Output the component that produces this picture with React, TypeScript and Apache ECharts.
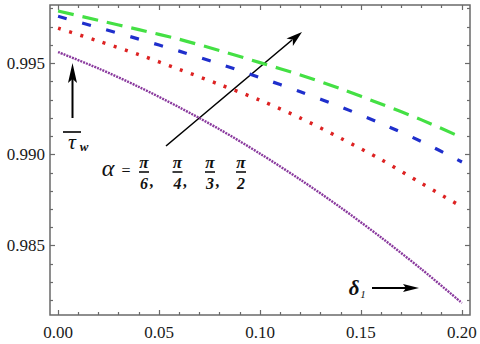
import React, { useEffect, useRef } from "react";
import * as echarts from "echarts";

const xValues = [0, 0.02, 0.04, 0.06, 0.08, 0.1, 0.12, 0.14, 0.16, 0.18, 0.2];
const purpleValues = [0.99562, 0.99472, 0.99371, 0.99259, 0.99138, 0.99005, 0.98862, 0.98709, 0.98545, 0.98371, 0.98186];
const redValues = [0.99693, 0.99622, 0.99548, 0.99467, 0.99384, 0.99298, 0.992, 0.99089, 0.98972, 0.98842, 0.98713];
const blueValues = [0.99758, 0.99696, 0.99633, 0.99567, 0.99497, 0.99422, 0.99344, 0.99261, 0.9917, 0.99071, 0.98959];
const greenValues = [0.99787, 0.99736, 0.99685, 0.99632, 0.9957, 0.99504, 0.99436, 0.9936, 0.99277, 0.9919, 0.99093];

const xMajorTicks = [0, 0.05, 0.1, 0.15, 0.2];
const xMinorTicks = [0.01, 0.02, 0.03, 0.04, 0.06, 0.07, 0.08, 0.09, 0.11, 0.12, 0.13, 0.14, 0.16, 0.17, 0.18, 0.19];
const yMajorTicks = [0.985, 0.99, 0.995];
const yMinorTicks = [0.982, 0.983, 0.984, 0.986, 0.987, 0.988, 0.989, 0.991, 0.992, 0.993, 0.994, 0.996, 0.997, 0.998];
const denominators = ["6", "4", "3", "2"];

const SERIF = "Liberation Serif";
const FRAME = "#6a6a6a";

function pairs(ys: number[]) {
  return xValues.map((x, i) => [x, ys[i]]);
}

function makeAxis(kind: "x" | "y", position: string, ticks: number[], len: number, labels: boolean) {
  const base: any = {
    type: "value",
    position,
    offset: 0,
    min: kind === "x" ? -0.004 : 0.9812,
    max: kind === "x" ? 0.204 : 0.9982,
    axisLine: { show: false, onZero: false },
    splitLine: { show: false },
    axisTick: {
      show: true,
      inside: true,
      length: len,
      customValues: ticks,
      lineStyle: { color: FRAME, width: 1.2 },
    },
    axisLabel: labels
      ? {
          show: true,
          customValues: ticks,
          fontFamily: SERIF,
          fontSize: 17,
          color: "#1a1a1a",
          margin: kind === "x" ? 9 : 5,
          formatter: (v: number) => (kind === "x" ? v.toFixed(2) : v.toFixed(3)),
        }
      : { show: false },
  };
  return base;
}

function txt(x: number, y: number, text: string, font: string) {
  return {
    type: "text",
    x,
    y,
    style: { text, font, fill: "#111", align: "center", verticalAlign: "middle" },
  };
}

export default function App() {
  const ref = useRef<HTMLDivElement>(null);
  useEffect(() => {
    if (!ref.current) return;
    const chart = echarts.init(ref.current, null, { renderer: "svg" });

    const fracCenters = [144, 177.5, 210, 241];
    const fracGraphics: any[] = [];
    denominators.forEach((d, i) => {
      const cx = fracCenters[i];
      fracGraphics.push(txt(cx, 162, "π", `bold italic 17px ${SERIF}`));
      fracGraphics.push({
        type: "line",
        shape: { x1: cx - 5, y1: 172, x2: cx + 5, y2: 172 },
        style: { stroke: "#111", lineWidth: 1.6 },
      });
      fracGraphics.push(txt(cx, 183, d, `bold italic 16px ${SERIF}`));
      if (i < denominators.length - 1) {
        fracGraphics.push(txt(cx + 8, 181, ",", `bold italic 16px ${SERIF}`));
      }
    });

    chart.setOption({
      animation: false,
      backgroundColor: "#fff",
      grid: {
        left: 50,
        right: 10,
        top: 5,
        bottom: 29,
        show: true,
        borderColor: FRAME,
        borderWidth: 1.5,
        backgroundColor: "transparent",
      },
      xAxis: [
        makeAxis("x", "bottom", xMajorTicks, 5, true),
        makeAxis("x", "bottom", xMinorTicks, 3, false),
        makeAxis("x", "top", xMajorTicks, 5, false),
        makeAxis("x", "top", xMinorTicks, 3, false),
      ],
      yAxis: [
        makeAxis("y", "left", yMajorTicks, 5, true),
        makeAxis("y", "left", yMinorTicks, 3, false),
        makeAxis("y", "right", yMajorTicks, 5, false),
        makeAxis("y", "right", yMinorTicks, 3, false),
      ],
      series: [
        {
          type: "line",
          data: pairs(purpleValues),
          symbol: "none",
          smooth: 0.3,
          lineStyle: { color: "#8a3a9e", width: 2.4, type: [2, 1] },
        },
        {
          type: "line",
          data: pairs(redValues),
          symbol: "none",
          smooth: 0.3,
          lineStyle: { color: "#dd2222", width: 3.5, type: [3, 8.7] },
        },
        {
          type: "line",
          data: pairs(blueValues),
          symbol: "none",
          smooth: 0.3,
          lineStyle: { color: "#1f2fcc", width: 3.2, type: [9, 16] },
        },
        {
          type: "line",
          data: pairs(greenValues),
          symbol: "none",
          smooth: 0.3,
          lineStyle: { color: "#44e044", width: 3.2, type: [16, 9] },
        },
      ],
      graphic: [
        {
          type: "line",
          shape: { x1: 72.5, y1: 118, x2: 72.5, y2: 78 },
          style: { stroke: "#000", lineWidth: 2 },
        },
        {
          type: "polygon",
          shape: { points: [[72.5, 63], [77, 83], [72.5, 79], [68, 83]] },
          style: { fill: "#000" },
        },
        {
          type: "line",
          shape: { x1: 63, y1: 132, x2: 81, y2: 132 },
          style: { stroke: "#000", lineWidth: 1.6 },
        },
        txt(72, 141, "τ", `italic 22px ${SERIF}`),
        txt(84, 146, "w", `bold italic 13px ${SERIF}`),
        {
          type: "line",
          shape: { x1: 166, y1: 146, x2: 292, y2: 40 },
          style: { stroke: "#000", lineWidth: 1.6 },
        },
        {
          type: "polygon",
          shape: { points: [[302, 32], [292.9, 46.1], [292.8, 39.7], [286.5, 38.5]] },
          style: { fill: "#000" },
        },
        txt(108, 168, "α", `italic 24px ${SERIF}`),
        txt(126, 170, "=", `16px ${SERIF}`),
        ...fracGraphics,
        txt(354, 288, "δ", `bold italic 21px ${SERIF}`),
        txt(363, 294, "1", `italic 11px ${SERIF}`),
        {
          type: "line",
          shape: { x1: 372, y1: 288, x2: 406, y2: 288 },
          style: { stroke: "#000", lineWidth: 2 },
        },
        {
          type: "polygon",
          shape: { points: [[419, 288], [403, 284], [406, 288], [403, 292]] },
          style: { fill: "#000" },
        },
      ],
    });
    return () => chart.dispose();
  }, []);
  return <div ref={ref} style={{ width: 480, height: 344, position: "fixed", left: 0, top: 0 }} />;
}
